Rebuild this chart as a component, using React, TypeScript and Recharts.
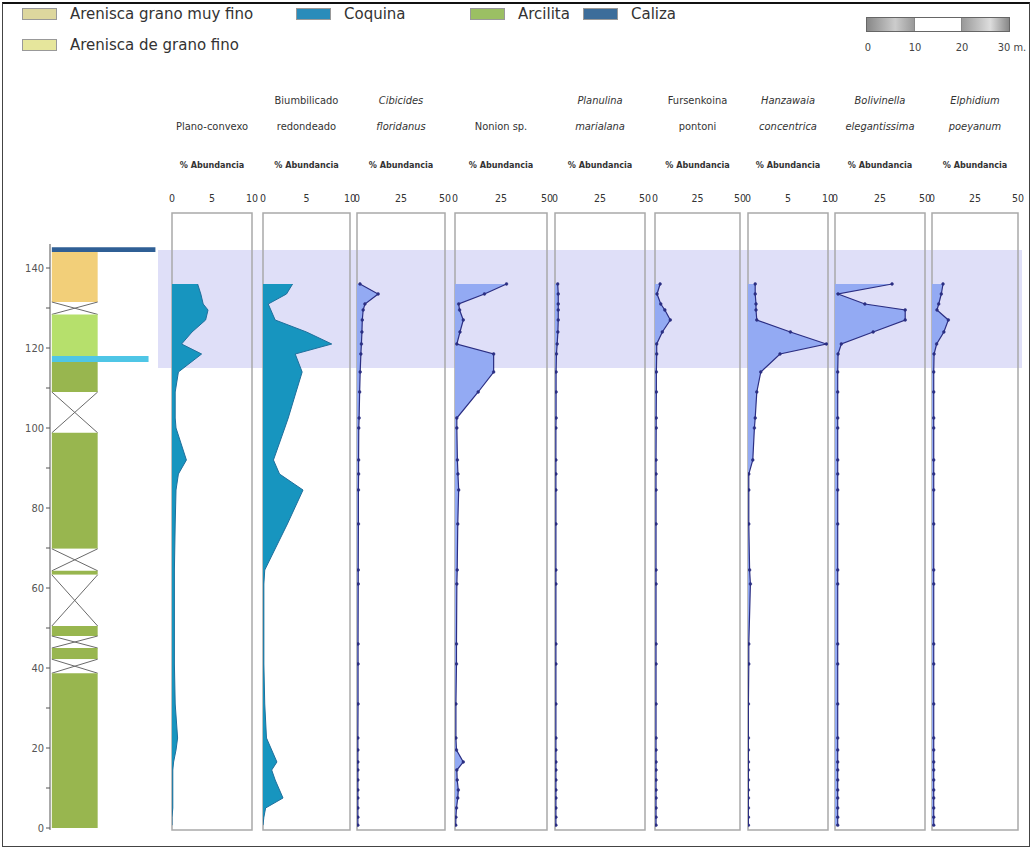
import React from "react";
import { ComposedChart, Area, XAxis, YAxis, ReferenceArea } from "recharts";

// sample depths (m) shared by every species column
const depths = [136, 133.5, 131, 129.5, 127, 124, 121, 118.5, 114, 109, 102.5, 100, 92, 88.5, 84.5, 76, 64.5, 61, 46, 41, 31, 22.5, 19.5, 16.5, 14.5, 12, 9.5, 7.5, 5, 2.7, 0.7];

// % abundance per species, same order as depths
const planoConvexo = [3.2, 3.6, 3.9, 4.5, 4.2, 2.5, 1.2, 3.7, 0.8, 0.4, 0.4, 0.5, 1.8, 0.8, 0.5, 0.4, 0.3, 0.3, 0.3, 0.3, 0.4, 0.7, 0.5, 0.2, 0.1, 0.1, 0.1, 0.1, 0.1, 0, 0];
const biumbilicado = [3.4, 2.7, 0.6, 0.9, 1.4, 5.0, 7.9, 3.7, 4.5, 3.8, 2.9, 2.5, 1.2, 1.9, 4.6, 2.8, 0.2, 0.1, 0.1, 0.1, 0.2, 0.4, 1.0, 1.6, 1.0, 1.4, 1.9, 2.3, 0.3, 0.1, 0];
const cibicides = [1.7, 12, 4.5, 3.5, 3, 2.8, 2.5, 2.2, 1.8, 1.5, 1.2, 1, 0.9, 0.9, 0.8, 0.8, 0.7, 0.7, 0.6, 0.6, 0.6, 0.5, 0.5, 0.5, 0.5, 0.5, 0.5, 0.5, 0.5, 0.5, 0.5];
const nonion = [28, 16, 2, 2.5, 4.5, 2.7, 1, 21, 21, 12.6, 1, 1, 1.3, 1.6, 2, 1.5, 1.2, 1, 0.8, 0.8, 0.5, 0.5, 0.8, 4.5, 1, 1.2, 1.8, 1.5, 0.8, 0.5, 0.4];
const planulina = [1.5, 1.8, 1.8, 1.8, 1.8, 1.6, 1.2, 0.8, 0.6, 0.6, 0.6, 0.5, 0.5, 0.5, 0.5, 0.5, 0.5, 0.5, 0.5, 0.5, 0.5, 0.5, 0.5, 0.5, 0.5, 0.5, 0.5, 0.5, 0.5, 0.5, 0.5];
const fursenkoina = [3, 1.2, 3.4, 5.8, 9, 4.3, 1, 1, 0.8, 0.8, 0.7, 0.7, 0.6, 0.6, 0.6, 0.6, 0.6, 0.6, 0.6, 0.6, 0.6, 0.6, 0.6, 0.6, 0.6, 0.6, 0.6, 0.6, 0.6, 0.6, 0.6];
const hanzawaia = [0.9, 0.9, 1.0, 1.0, 1.1, 5.3, 9.8, 4.0, 1.6, 1.1, 0.9, 0.8, 0.6, 0.1, 0.1, 0.1, 0.2, 0.3, 0.1, 0.1, 0.05, 0.05, 0.05, 0.05, 0.05, 0.05, 0.05, 0.05, 0.05, 0.05, 0.05];
const bolivinella = [31.7, 1.7, 16.6, 39, 39, 21.2, 3.5, 1.7, 1.5, 1.5, 1.5, 1.5, 1.5, 1.5, 1.5, 1.5, 1.5, 1.5, 1.5, 1.5, 1.5, 1.5, 1.5, 1.5, 1.5, 1.5, 1.5, 1.5, 1.5, 1.5, 1.5];
const elphidium = [6.4, 5.4, 3.9, 2.9, 9.5, 6.9, 2.7, 1.2, 1, 1, 1, 1, 1, 1, 1, 1, 1, 1, 1, 1, 1, 1, 1, 1, 1, 1, 1, 1, 1, 1, 1];

// lithology column (depth ranges, m)
const lithoFrom = [144, 131.5, 128.4, 118, 116.5, 109, 98.8, 69.8, 64.3, 63.3, 50.5, 48, 45, 42.2, 38.7, 0];
const lithoTo = [145.2, 144, 131.5, 128.4, 118, 116.5, 109, 98.8, 69.8, 64.3, 63.3, 50.5, 48, 45, 42.2, 38.7];
const lithoType = ["caliza", "muyFino", "cubierto", "fino", "coquina", "arcilita", "cubierto", "arcilita", "cubierto", "arcilita", "cubierto", "arcilita", "cubierto", "arcilita", "cubierto", "arcilita"];

const depthTicks = [0, 10, 20, 30, 40, 50, 60, 70, 80, 90, 100, 110, 120, 130, 140];
const band = [115, 144.5];

const NARROW = '"DejaVu Sans Condensed", "Liberation Sans Narrow", sans-serif';
const TEAL = "#1795bf";
const LILAC = "#93aaf3";
const NAVY = "#2b2e82";

const DEPTH_MIN = -0.5;
const DEPTH_MAX = 153.75;
const PANEL_TOP = 170;
const PANEL_H = 670;

const litho: Record<string, { fill: string; wide?: number }> = {
	caliza: { fill: "#2f5f95", wide: 2.3 },
	muyFino: { fill: "#f2cf79" },
	fino: { fill: "#b6e06c" },
	coquina: { fill: "#4fc6e6", wide: 2.15 },
	arcilita: { fill: "#98b64f" },
	cubierto: { fill: "#ffffff" },
};

const species = [
	{ title: ["", "Plano-convexo"], italic: false, values: planoConvexo, max: 10, ticks: [0, 5, 10], left: 172, right: 252, teal: true },
	{ title: ["Biumbilicado", "redondeado"], italic: false, values: biumbilicado, max: 10, ticks: [0, 5, 10], left: 263, right: 350, teal: true },
	{ title: ["Cibicides", "floridanus"], italic: true, values: cibicides, max: 50, ticks: [0, 25, 50], left: 357, right: 445 },
	{ title: ["", "Nonion sp."], italic: false, values: nonion, max: 50, ticks: [0, 25, 50], left: 455, right: 547 },
	{ title: ["Planulina", "marialana"], italic: true, values: planulina, max: 50, ticks: [0, 25, 50], left: 555, right: 645 },
	{ title: ["Fursenkoina", "pontoni"], italic: false, values: fursenkoina, max: 50, ticks: [0, 25, 50], left: 655, right: 740 },
	{ title: ["Hanzawaia", "concentrica"], italic: true, values: hanzawaia, max: 10, ticks: [0, 5, 10], left: 748, right: 828 },
	{ title: ["Bolivinella", "elegantissima"], italic: true, values: bolivinella, max: 50, ticks: [0, 25, 50], left: 835, right: 925 },
	{ title: ["Elphidium", "poeyanum"], italic: true, values: elphidium, max: 50, ticks: [0, 25, 50], left: 932, right: 1018 },
];

const CrossShape = (p: any) => (
	<g>
		<rect x={p.x} y={p.y} width={p.width} height={p.height} fill="#fff" />
		<line x1={p.x} y1={p.y} x2={p.x + p.width} y2={p.y + p.height} stroke="#6a6a6a" strokeWidth={1} />
		<line x1={p.x + p.width} y1={p.y} x2={p.x} y2={p.y + p.height} stroke="#6a6a6a" strokeWidth={1} />
	</g>
);

function SpeciesPanel({ sp }: { sp: any }) {
	const data = depths.map((depth, i) => ({ depth, value: sp.values[i] }));
	const w = sp.right - sp.left;
	const cx = (sp.left + sp.right) / 2;
	return (
		<>
			<div style={{ position: "absolute", left: cx - 60, width: 120, top: 88, textAlign: "center", fontFamily: NARROW, fontSize: 11, lineHeight: "26px", color: "#333", fontStyle: sp.italic ? "italic" : "normal" }}>
				<div style={{ height: 26 }}>{sp.title[0]}</div>
				<div>{sp.title[1]}</div>
			</div>
			<div style={{ position: "absolute", left: cx - 60, width: 120, top: 160, textAlign: "center", fontFamily: NARROW, fontSize: 9, fontWeight: "bold", color: "#333" }}>
				% Abundancia
			</div>
			<div style={{ position: "absolute", left: sp.left - 14, top: PANEL_TOP }}>
				<ComposedChart layout="vertical" width={w + 28} height={PANEL_H} data={data} margin={{ top: 23, right: 14, bottom: 10, left: 14 }}>
					<XAxis type="number" orientation="top" domain={[0, sp.max]} ticks={sp.ticks} interval={0} tickLine={false} axisLine={false} tickSize={0} tickMargin={11} height={20} tick={{ fontSize: 10.5, fill: "#333", fontFamily: NARROW }} allowDataOverflow />
					<YAxis type="number" dataKey="depth" domain={[DEPTH_MIN, DEPTH_MAX]} reversed hide allowDataOverflow />
					<ReferenceArea x1={0} x2={sp.max} y1={DEPTH_MIN} y2={DEPTH_MAX} fill="none" stroke="#a9a9a9" strokeWidth={1.5} ifOverflow="visible" />
					<Area
						type="linear"
						dataKey="value"
						fill={sp.teal ? TEAL : LILAC}
						fillOpacity={1}
						stroke={sp.teal ? "#1f6f9c" : NAVY}
						strokeWidth={sp.teal ? 1 : 1.2}
						dot={sp.teal ? false : { r: 1.4, fill: NAVY, stroke: NAVY, strokeWidth: 0.5 }}
						activeDot={false}
						isAnimationActive={false}
					/>
				</ComposedChart>
			</div>
		</>
	);
}

function LegendItem({ x, y, color, label }: { x: number; y: number; color: string; label: string }) {
	return (
		<div style={{ position: "absolute", left: x, top: y, display: "flex", alignItems: "center", fontFamily: '"DejaVu Sans", sans-serif', fontSize: 15, color: "#333" }}>
			<span style={{ display: "inline-block", width: 33, height: 10, background: color, border: "1px solid #999", marginRight: 13 }} />
			{label}
		</div>
	);
}

export default function App() {
	const lithoRows = lithoFrom.map((from, i) => ({ depth: from, from, to: lithoTo[i], type: lithoType[i], edge: 0 }));
	// the band spans the full width of the panel strip (x = 0..1)
	const bandRows = band.map((depth) => ({ depth, span: 1 }));
	return (
		<div style={{ position: "relative", width: 1032, height: 848, background: "#fff", overflow: "hidden" }}>
			<style>{"body{margin:0}"}</style>
			<div style={{ position: "absolute", left: 2, top: 2, width: 1026, height: 842, borderTop: "2px solid #111", borderLeft: "1px solid #444", borderRight: "1px solid #444", borderBottom: "1px solid #444" }} />

			<LegendItem x={22} y={5} color="#ddd79e" label="Arenisca grano muy fino" />
			<LegendItem x={296} y={5} color="#2a8cba" label="Coquina" />
			<LegendItem x={470} y={5} color="#9bbf63" label="Arcilita" />
			<LegendItem x={583} y={5} color="#3c6d9a" label="Caliza" />
			<LegendItem x={22} y={36} color="#e6e69c" label="Arenisca de grano fino" />

			{/* scale bar */}
			<div style={{ position: "absolute", left: 866, top: 17, width: 142, height: 13, border: "1px solid #666", display: "flex" }}>
				<div style={{ flex: 1, background: "linear-gradient(90deg,#888,#ccc 60%,#999)" }} />
				<div style={{ flex: 1, background: "#fff", borderLeft: "1px solid #888", borderRight: "1px solid #888" }} />
				<div style={{ flex: 1, background: "linear-gradient(90deg,#999,#ddd 60%,#888)" }} />
			</div>
			{[["0", 868], ["10", 915], ["20", 962], ["30 m.", 1012]].map(([t, x]) => (
				<div key={t as string} style={{ position: "absolute", left: (x as number) - 20, width: 40, top: 41, textAlign: "center", fontFamily: NARROW, fontSize: 11, color: "#444" }}>{t}</div>
			))}

			{/* highlighted interval behind the panels */}
			<div style={{ position: "absolute", left: 150, top: PANEL_TOP }}>
				<ComposedChart layout="vertical" width={880} height={PANEL_H} data={bandRows} margin={{ top: 43, right: 8, bottom: 10, left: 8 }}>
					<XAxis type="number" domain={[0, 1]} hide />
					<YAxis type="number" dataKey="depth" domain={[DEPTH_MIN, DEPTH_MAX]} reversed hide />
					<Area type="linear" dataKey="span" fill="#dfdff8" fillOpacity={1} stroke="none" dot={false} activeDot={false} isAnimationActive={false} />
				</ComposedChart>
			</div>

			{/* lithology column with depth axis */}
			<div style={{ position: "absolute", left: 0, top: PANEL_TOP }}>
				<ComposedChart layout="vertical" width={160} height={PANEL_H} data={lithoRows} margin={{ top: 74, right: 0, bottom: 10, left: 0 }}>
					<XAxis type="number" domain={[0, 2.4]} hide />
					<YAxis type="number" dataKey="depth" domain={[-0.5, 146]} reversed ticks={depthTicks} interval={0} width={50} tickSize={4} tickMargin={2}
						tickFormatter={(v: number) => (v % 20 === 0 ? String(v) : "")}
						tick={{ fontSize: 11, fill: "#555", fontFamily: NARROW }} stroke="#555" />
					<Area type="linear" dataKey="edge" fill="none" stroke="none" dot={false} activeDot={false} isAnimationActive={false} />
					{lithoRows.map((r, i) =>
						r.type === "cubierto" ? (
							<ReferenceArea key={i} x1={0.04} x2={1.04} y1={r.from} y2={r.to} shape={CrossShape} ifOverflow="visible" />
						) : (
							<ReferenceArea key={i} x1={0.04} x2={litho[r.type].wide ?? 1.04} y1={r.from} y2={r.to} fill={litho[r.type].fill} fillOpacity={1} stroke="none" ifOverflow="visible" />
						)
					)}
				</ComposedChart>
			</div>

			{species.map((sp, i) => (
				<SpeciesPanel key={i} sp={sp} />
			))}
		</div>
	);
}
